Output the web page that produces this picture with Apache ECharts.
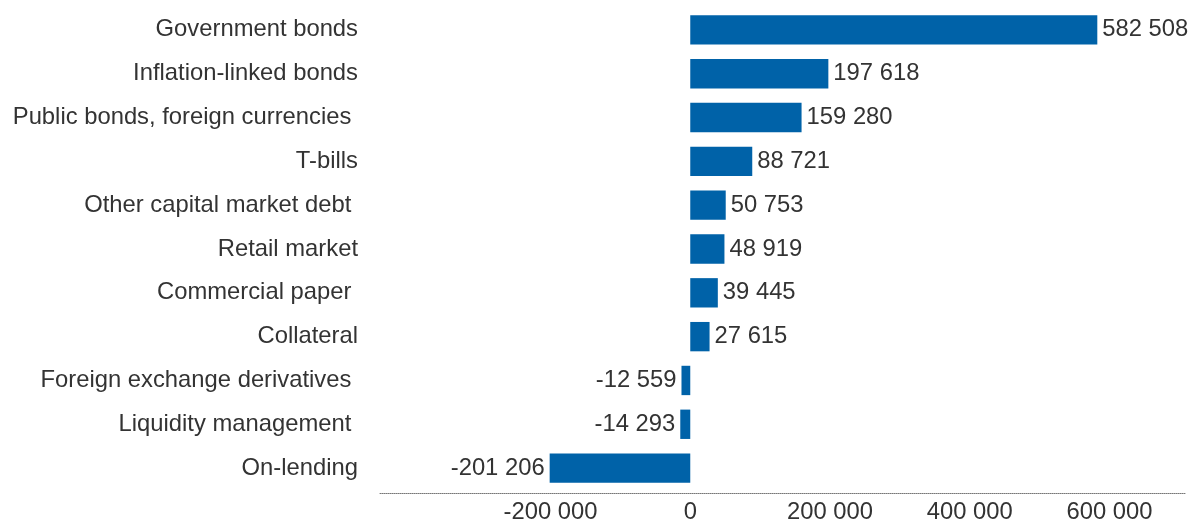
<!DOCTYPE html>
<html>
<head>
<meta charset="utf-8">
<script src="https://cdn.jsdelivr.net/npm/echarts@6/dist/echarts.min.js"></script>
<style>html,body{margin:0;padding:0;background:#fff;overflow:hidden}#c{width:100vw;height:100vh}</style>
</head>
<body>
<div id="c"></div>
<script>
const categories = ["Government bonds","Inflation-linked bonds","Public bonds, foreign currencies ","T-bills","Other capital market debt ","Retail market","Commercial paper ","Collateral","Foreign exchange derivatives ","Liquidity management ","On-lending"];
const values = [582508,197618,159280,88721,50753,48919,39445,27615,-12559,-14293,-201206];
const tickValues = [-200000,0,200000,400000,600000];

function fmt(v){
  const s = Math.abs(v).toString().replace(/\B(?=(\d{3})+(?!\d))/g,' ');
  return (v<0?'-':'')+s;
}
const FS = 23.8;
const chart = echarts.init(document.getElementById('c'));
chart.setOption({
  animation:false,
  grid:{left:380,right:5,top:8,bottom:28,containLabel:false},
  xAxis:{type:'value',min:-444000,max:708000,interval:4000,offset:3,
    splitLine:{show:false},
    axisLine:{show:true,onZero:false,lineStyle:{color:'#777',type:'dotted',width:1}},
    axisTick:{show:false},
    axisLabel:{fontSize:FS,color:'#333',fontFamily:'Liberation Sans, Arial',margin:7,
      showMinLabel:false,showMaxLabel:false,
      formatter:function(v){return tickValues.indexOf(v)>=0?fmt(v):'';}}
  },
  yAxis:{type:'category',data:categories,inverse:true,
    axisLine:{show:false},axisTick:{show:false},
    axisLabel:{fontSize:FS,color:'#333',fontFamily:'Liberation Sans, Arial',margin:22}
  },
  series:[{type:'bar',barWidth:'67%',itemStyle:{color:'#0062A8'},
    data:values.map(v=>({value:v,label:{show:true,position:v<0?'left':'right',distance:5,
      fontSize:FS,color:'#333',fontFamily:'Liberation Sans, Arial',formatter:function(p){return fmt(p.value);}}}))
  }]
});
</script>
</body>
</html>
